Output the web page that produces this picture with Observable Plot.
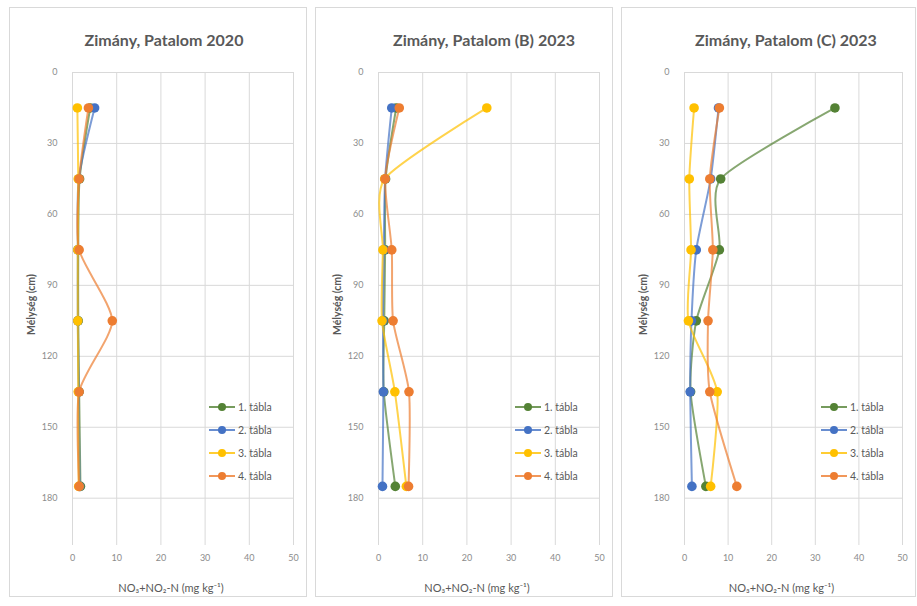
<!DOCTYPE html>
<html>
<head>
<meta charset="utf-8">
<script src="https://cdn.jsdelivr.net/npm/d3@7"></script>
<script src="https://cdn.jsdelivr.net/npm/@observablehq/plot@0.6"></script>
<style>
  html, body { margin: 0; padding: 0; background: #fff; }
  body { width: 917px; height: 606px; position: relative; overflow: hidden; font-family: Lato, "Open Sans", sans-serif; }
  .panel { position: absolute; top: 7px; height: 590px; border: 1px solid #d9d9d9; box-sizing: border-box; background: #fff; }
  .panel svg.chart { position: absolute; left: 0; top: 0; }
  .title { position: absolute; top: 22px; font-weight: bold; font-size: 16px; color: #595959; white-space: nowrap; transform: translateX(-50%); }
  .legend { position: absolute; left: 199px; top: 387px; font-size: 10.5px; color: #595959; }
  .legend .row { display: flex; align-items: center; height: 23px; }
  .legend svg { margin-right: 3px; }
</style>
</head>
<body>
<script>
// Depth of each soil sample (cm)
const depths = [15, 45, 75, 105, 135, 175];
const seriesNames = ["1. tábla", "2. tábla", "3. tábla", "4. tábla"];
const seriesColors = ["#548235", "#4472c4", "#ffc000", "#ed7d31"];
const titles = ["Zimány, Patalom 2020", "Zimány, Patalom (B) 2023", "Zimány, Patalom (C) 2023"];
const xTicks = [0, 10, 20, 30, 40, 50];
const yTicks = [0, 30, 60, 90, 120, 150, 180];
const xLabel = "NO₃+NO₂-N (mg kg⁻¹)";
const yLabel = "Mélység (cm)";

// NO3+NO2-N (mg/kg) per field, one value per depth
const patalom2020 = [
  [4.0, 1.6, 1.3, 1.3, 1.5, 1.8],
  [5.0, 1.4, 1.2, 1.2, 1.4, 1.6],
  [1.1, 1.3, 1.2, 1.2, 1.3, 1.4],
  [3.6, 1.5, 1.5, 9.0, 1.5, 1.5]
];
const patalomB2023 = [
  [4.0, 1.6, 1.5, 1.3, 1.2, 3.8],
  [3.0, 1.5, 1.2, 1.0, 1.1, 0.9],
  [24.5, 1.4, 1.0, 0.8, 3.7, 6.3],
  [4.7, 1.5, 3.0, 3.3, 6.9, 6.8]
];
const patalomC2023 = [
  [34.5, 8.3, 8.0, 2.7, 1.4, 4.9],
  [7.8, 6.0, 2.7, 1.6, 1.3, 1.7],
  [2.2, 1.1, 1.5, 0.9, 7.5, 6.0],
  [8.0, 5.8, 6.5, 5.4, 5.8, 12.0]
];

const panels = [patalom2020, patalomB2023, patalomC2023];
const panelLeft = [9, 315, 621];
const panelWidth = [298, 298, 295];
const titleCenter = [154, 168, 164];

panels.forEach((values, p) => {
  const div = document.createElement("div");
  div.className = "panel";
  div.style.left = panelLeft[p] + "px";
  div.style.width = panelWidth[p] + "px";
  document.body.appendChild(div);

  // each field: smoothed profile line with its sample markers on top
  const seriesMarks = seriesNames.flatMap((name, s) => {
    const rows = depths.map((d, i) => ({depth: d, value: values[s][i], series: name}));
    return [
      Plot.line(rows, {x: "value", y: "depth", stroke: seriesColors[s], strokeWidth: 2, strokeOpacity: 0.7, curve: "cardinal", tension: 0.35}),
      Plot.dot(rows, {x: "value", y: "depth", fill: seriesColors[s], r: 4.8})
    ];
  });

  const chart = Plot.plot({
    width: panelWidth[p] - 2,
    height: 588,
    marginLeft: 62,
    marginRight: 13,
    marginTop: 64,
    marginBottom: 51,
    style: {fontFamily: "Lato, 'Open Sans', sans-serif", fontSize: "9px", color: "#8c8c8c", background: "transparent"},
    x: {domain: [0, 50]},
    y: {domain: [0, 200], reverse: true},
    marks: [
      Plot.gridX(xTicks, {stroke: "#d9d9d9", strokeOpacity: 1}),
      Plot.gridY(yTicks, {stroke: "#d9d9d9", strokeOpacity: 1}),
      Plot.axisX(xTicks, {tickSize: 0, tickPadding: 9, label: null, fill: "#8c8c8c"}),
      Plot.axisY(yTicks, {tickSize: 0, tickPadding: 15, label: null, fill: "#8c8c8c"}),
      ...seriesMarks,
      Plot.text([xLabel], {frameAnchor: "bottom", dx: -12, dy: 46, fill: "#595959", fontSize: 11}),
      Plot.text([yLabel], {frameAnchor: "left", rotate: -90, dx: -41, dy: 26, fill: "#595959", fontSize: 10.5, fontWeight: "bold"})
    ]
  });
  chart.classList.add("chart");
  div.appendChild(chart);

  const title = document.createElement("div");
  title.className = "title";
  title.style.left = titleCenter[p] + "px";
  title.textContent = titles[p];
  div.appendChild(title);

  const legend = document.createElement("div");
  legend.className = "legend";
  seriesNames.forEach((name, s) => {
    const row = document.createElement("div");
    row.className = "row";
    row.innerHTML = `<svg width="26" height="10"><line x1="0" y1="5" x2="26" y2="5" stroke="${seriesColors[s]}" stroke-width="2" stroke-opacity="0.8"/><circle cx="13" cy="5" r="4" fill="${seriesColors[s]}"/></svg><span>${name}</span>`;
    legend.appendChild(row);
  });
  div.appendChild(legend);
});
</script>
</body>
</html>
